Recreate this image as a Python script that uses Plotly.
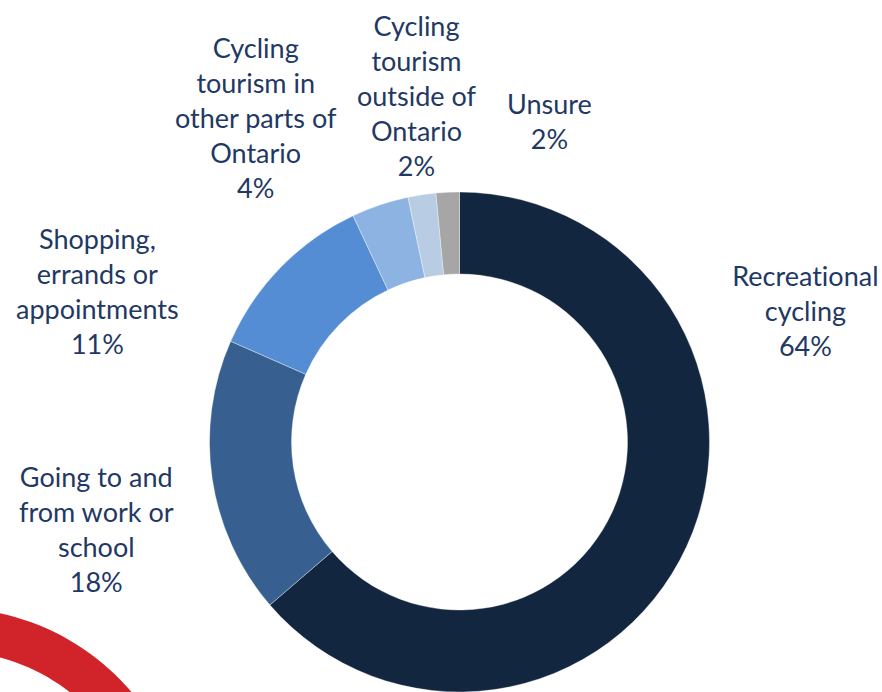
import math
import plotly.graph_objects as go

# Data (shares; labels show rounded percents)
categories = [
    "Recreational<br>cycling",
    "Going to and<br>from work or<br>school",
    "Shopping,<br>errands or<br>appointments",
    "Cycling<br>tourism in<br>other parts of<br>Ontario",
    "Cycling<br>tourism<br>outside of<br>Ontario",
    "Unsure",
]
shares = [63.7, 17.9, 11.4, 3.7, 1.8, 1.5]
pct_labels = ["64%", "18%", "11%", "4%", "2%", "2%"]

colors = ["#13263F", "#375F8F", "#548DD4", "#8DB3E2", "#B8CCE4", "#A6A6A6"]
text_color = "#1F3864"
font_family = "Lato, 'Open Sans', sans-serif"

W, H = 882, 692

fig = go.Figure()
fig.add_trace(go.Pie(
    values=shares,
    labels=[c.replace("<br>", " ") for c in categories],
    sort=False,
    direction="clockwise",
    rotation=0,
    hole=0.672,
    marker=dict(colors=colors, line=dict(color="rgba(255,255,255,0.6)", width=0.6)),
    textinfo="none",
    hoverinfo="label+percent",
    showlegend=False,
    domain=dict(x=[209.5 / W, 709.5 / W], y=[0, 1 - 192 / H]),
))

# label block centers (pixels)
label_pos = [(805, 311), (96, 529), (97, 291), (256, 117), (417, 96), (549, 121)]
for cat, pct, (px, py) in zip(categories, pct_labels, label_pos):
    fig.add_annotation(
        text=f"{cat}<br>{pct}",
        x=px / W, y=1 - py / H, xref="paper", yref="paper",
        xanchor="center", yanchor="middle", showarrow=False,
        font=dict(family=font_family, size=27, color=text_color),
        align="center",
    )

# decorative red ring segment in lower-left corner (part of a logo)
cx, cy, r_out, r_in = -50, 846, 238, 195
angs = [math.radians(a) for a in range(200, 361, 2)]  # angle measured in screen coords
outer = [(cx + r_out * math.cos(a), cy + r_out * math.sin(a)) for a in angs]
inner = [(cx + r_in * math.cos(a), cy + r_in * math.sin(a)) for a in reversed(angs)]
pts = outer + inner
path = "M " + " L ".join(f"{x / W:.5f},{1 - y / H:.5f}" for x, y in pts) + " Z"
fig.add_shape(type="path", path=path, xref="paper", yref="paper",
              fillcolor="#D1232A", line=dict(width=0), layer="below")

fig.update_layout(
    width=W, height=H,
    margin=dict(l=0, r=0, t=0, b=0),
    paper_bgcolor="white", plot_bgcolor="white",
)

fig.write_html(
    "out.html",
    config={"displayModeBar": False},
    post_script=(
        "document.body.style.margin='0';document.body.style.overflow='hidden';"
        "document.querySelectorAll('text').forEach(function(t){"
        "t.style.fontVariantLigatures='none';t.style.fontFeatureSettings='\"liga\" 0, \"clig\" 0';});"
    ),
)
